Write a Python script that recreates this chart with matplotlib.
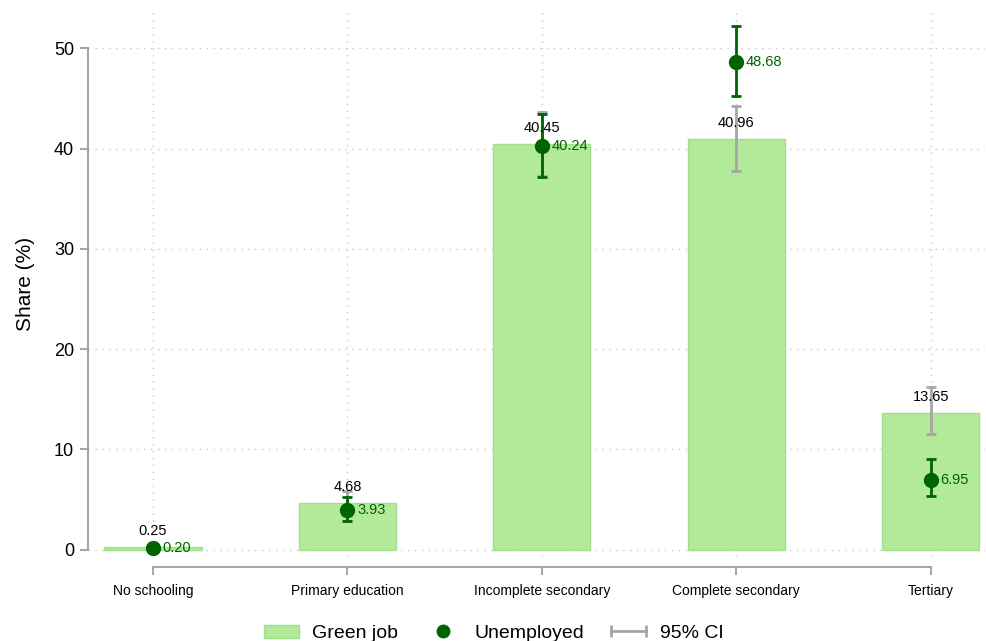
import matplotlib.pyplot as plt
from matplotlib.patches import Patch
from matplotlib.lines import Line2D
from matplotlib.legend_handler import HandlerLine2D
import numpy as np

plt.rcParams['font.family'] = ['Liberation Sans', 'DejaVu Sans']

# Data
categories = ['No schooling', 'Primary education', 'Incomplete secondary',
              'Complete secondary', 'Tertiary']
green_job = [0.25, 4.68, 40.45, 40.96, 13.65]
green_lo = [0.10, 3.40, 37.30, 37.80, 11.50]
green_hi = [0.40, 5.90, 43.60, 44.20, 16.20]
unemployed = [0.20, 3.93, 40.24, 48.68, 6.95]
unemp_lo = [0.00, 2.90, 37.20, 45.20, 5.40]
unemp_hi = [0.60, 5.30, 43.40, 52.20, 9.00]

bar_color = '#b2ea9a'
bar_edge = '#9fe08a'
dark = '#006400'
gray = '#a6a6a6'

x = np.arange(len(categories))
gj = np.array(green_job)
un = np.array(unemployed)

fig = plt.figure(figsize=(9.87, 6.41), dpi=100)
ax = fig.add_axes([0.0892, 0.133, 0.909, 0.848])

ax.bar(x, gj, width=0.5, color=bar_color, edgecolor=bar_edge, linewidth=1, zorder=2)
ax.errorbar(x, gj, yerr=[gj - np.array(green_lo), np.array(green_hi) - gj],
            fmt='none', ecolor=gray, elinewidth=2, capsize=3.8, capthick=2, zorder=3)
ax.errorbar(x, un, yerr=[un - np.array(unemp_lo), np.array(unemp_hi) - un],
            fmt='none', ecolor=dark, elinewidth=2, capsize=3.8, capthick=2, zorder=4)
ax.plot(x, un, 'o', color=dark, markersize=10, zorder=5)

for i in range(len(x)):
    ax.annotate(f'{gj[i]:.2f}', (x[i], gj[i]), xytext=(0, 11.5), textcoords='offset points',
                ha='center', va='center', fontsize=10.5, color='black', zorder=6)
    ax.annotate(f'{un[i]:.2f}', (x[i], un[i]), xytext=(7, 0), textcoords='offset points',
                ha='left', va='center', fontsize=10.5, color=dark, zorder=6)

ax.set_xlim(-0.334, 4.28)
ax.set_ylim(-0.6, 53.6)
ax.set_yticks([0, 10, 20, 30, 40, 50])
ax.set_xticks(x)
ax.set_xticklabels(categories, fontsize=10.2)
ax.tick_params(axis='y', labelsize=13, length=6, width=1.5, color=gray, pad=4)
ax.tick_params(axis='x', length=6, width=1.5, color=gray, pad=6)
ax.set_ylabel('Share (%)', fontsize=15, labelpad=14)

for s in ['top', 'right']:
    ax.spines[s].set_visible(False)
ax.spines['left'].set_color(gray)
ax.spines['left'].set_linewidth(1.5)
ax.spines['left'].set_bounds(0, 50)
ax.spines['bottom'].set_color(gray)
ax.spines['bottom'].set_linewidth(1.5)
ax.spines['bottom'].set_bounds(0, 4)
ax.spines['bottom'].set_position(('outward', 8))

ax.grid(True, linestyle=(0, (1, 4)), color='#c8c8c8', linewidth=1, zorder=0)
ax.set_axisbelow(True)

ci_handle = Line2D([0, 1], [0, 0], color=gray, linewidth=2, marker='|',
                   markersize=9, markeredgewidth=2)
handles = [Patch(facecolor=bar_color, edgecolor=bar_edge),
           Line2D([], [], linestyle='none', marker='o', color=dark, markersize=9),
           ci_handle]
fig.legend(handles, ['Green job', 'Unemployed', '95% CI'], loc='center',
           bbox_to_anchor=(0.5, 0.012), ncol=3, frameon=False, fontsize=14,
           handlelength=1.8, handletextpad=0.7, columnspacing=1.4,
           handler_map={ci_handle: HandlerLine2D(numpoints=2, marker_pad=0.0)})

fig.savefig('out.png', dpi=100)
